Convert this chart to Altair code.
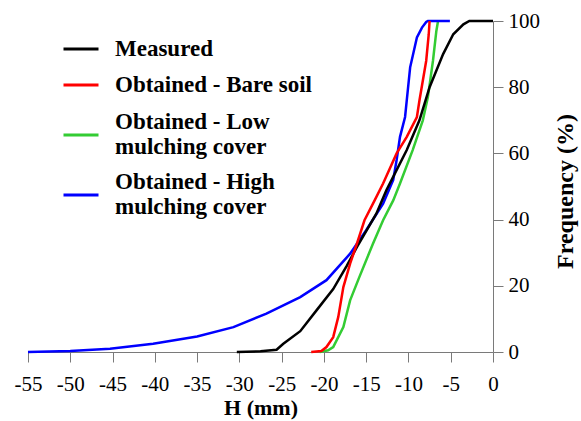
import altair as alt
import pandas as pd

# Cumulative frequency curves of H (mm)
name_measured = "Measured"
name_bare = "Obtained - Bare soil"
name_low = "Obtained - Low|mulching cover"
name_high = "Obtained - High|mulching cover"

color_measured = "#000000"
color_bare = "#ff0000"
color_low = "#33cc33"
color_high = "#0000ff"

measured_h = [-30.3, -27.5, -25.6, -24.8, -22.8, -20.9, -18.9, -17.3, -16.1, -13.8,
              -12.6, -10.2, -8.7, -7.5, -5.9, -4.7, -3.5, -2.8, 0.0]
measured_f = [0, 0.2, 0.7, 2.5, 6.3, 12.5, 19, 26, 31.7, 41.8,
              48.9, 61, 70, 80, 90, 96, 99, 100, 100]

bare_h = [-21.5, -20.3, -19.7, -18.9, -18.3, -17.7, -16.9, -16.1, -15.2, -14.0,
          -13.0, -11.4, -10.2, -9.0, -8.7, -7.9, -7.6, -7.5]
bare_f = [0, 0.3, 1.5, 4.5, 10.6, 19.6, 26.7, 32.7, 39.8, 45.8,
          50.9, 60, 65, 71, 76, 88, 96, 100]

low_h = [-20.5, -19.5, -18.9, -17.7, -16.9, -15.8, -14.2, -13.0, -11.8, -11.0,
         -9.5, -8.3, -7.7, -7.1, -6.7, -6.5]
low_f = [0, 0.5, 1.5, 7.5, 15.6, 22.7, 32.7, 39.8, 45.8, 50.9,
         61, 70, 77, 88, 97, 100]

high_h = [-55.0, -50.0, -45.3, -40.2, -35.0, -30.7, -26.8, -22.8, -19.7, -16.9,
          -15.0, -13.0, -11.8, -11.4, -11.0, -10.4, -10.2, -9.8, -9.0, -8.4,
          -7.9, -7.7, -5.1]
high_f = [0, 0.3, 1.0, 2.5, 4.7, 7.5, 11.6, 16.6, 21.7, 29.7,
          36.8, 44.8, 52, 58, 65, 71, 76, 86, 95, 98,
          99.7, 100, 100]

x_ticks = list(range(-55, 1, 5))
y_ticks = list(range(0, 101, 20))


def series_frame(name, hs, fs):
    return pd.DataFrame({"H": hs, "F": fs, "series": name, "idx": range(len(hs))})


df_obs = pd.concat([series_frame(name_measured, measured_h, measured_f),
                    series_frame(name_bare, bare_h, bare_f)], ignore_index=True)
df_mulch = pd.concat([series_frame(name_low, low_h, low_f),
                      series_frame(name_high, high_h, high_f)], ignore_index=True)

FONT = "Liberation Serif"
AXIS_GRAY = "#7a7a7a"

x_enc = alt.X(
    "H:Q",
    scale=alt.Scale(domain=[-55, 0], nice=False, zero=False),
    axis=alt.Axis(
        values=x_ticks,
        title="H (mm)",
        titleFontSize=22,
        grid=False,
        tickSize=10,
        labelPadding=11,
        titlePadding=3,
        labelOverlap=False,
        labelFlush=False,
        labelExpr="'' + datum.value",
    ),
)
y_enc = alt.Y(
    "F:Q",
    scale=alt.Scale(domain=[0, 100], nice=False),
    axis=alt.Axis(
        orient="right",
        values=y_ticks,
        title="Frequency (%)",
        titleFontSize=24,
        grid=False,
        tickSize=10,
        labelPadding=5,
        labelOverlap=False,
        labelFlush=False,
        titleAngle=270,
        titleAlign="center",
        titleBaseline="middle",
        titleX=72,
        titleY=170,
    ),
)

legend_common = dict(
    orient="none",
    legendX=34,
    title=None,
    symbolType="stroke",
    symbolSize=1225,
    symbolStrokeWidth=3,
    labelFont=FONT,
    labelFontSize=23,
    labelFontWeight="bold",
    labelColor="black",
    labelOffset=15,
    labelLimit=400,
    padding=0,
    labelExpr="split(datum.label, '|')",
)

# Mulching-cover curves (two-line legend labels)
mulch = (
    alt.Chart(df_mulch)
    .mark_line(strokeWidth=2.5, interpolate="linear")
    .encode(
        x=x_enc,
        y=y_enc,
        color=alt.Color(
            "series:N",
            scale=alt.Scale(domain=[name_low, name_high], range=[color_low, color_high]),
            legend=alt.Legend(legendY=95, rowPadding=12, labelBaseline="line-bottom",
                              **legend_common),
        ),
        order="idx:Q",
    )
)

# Measured and bare-soil curves
obs = (
    alt.Chart(df_obs)
    .mark_line(strokeWidth=2.5, interpolate="linear")
    .encode(
        x=x_enc,
        y=y_enc,
        color=alt.Color(
            "series:N",
            scale=alt.Scale(domain=[name_measured, name_bare],
                            range=[color_measured, color_bare]),
            legend=alt.Legend(legendY=9, rowPadding=5, **legend_common),
        ),
        order="idx:Q",
    )
)

chart = (
    alt.layer(mulch, obs)
    .resolve_scale(color="independent")
    .properties(
        width=465,
        height=331,
        autosize=alt.AutoSizeParams(type="none"),
        padding={"left": 28, "top": 21, "right": 88, "bottom": 69},
    )
    .configure_view(stroke=None)
    .configure_axis(
        labelFont=FONT,
        labelFontSize=21,
        labelColor="black",
        titleFont=FONT,
        titleFontWeight="bold",
        titleColor="black",
        domainColor=AXIS_GRAY,
        tickColor=AXIS_GRAY,
        domainWidth=1,
        tickWidth=1,
    )
)

chart.save("out.html", embed_options={"renderer": "svg", "actions": False})
